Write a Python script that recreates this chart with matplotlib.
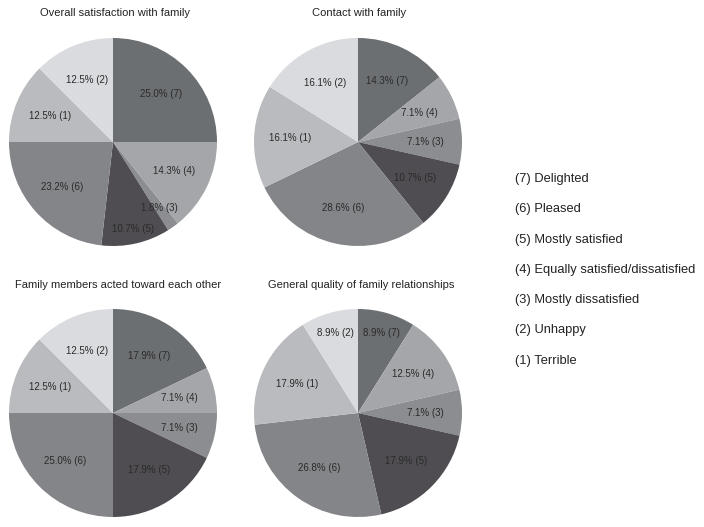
import matplotlib.pyplot as plt

plt.rcParams['font.family'] = ['Liberation Sans', 'DejaVu Sans']

# response codes, in the order the slices run clockwise from 12 o'clock
codes = [7, 4, 3, 5, 6, 1, 2]
colors = ['#6c6f72', '#a4a6a9', '#8b8d90', '#4f4d52', '#838588', '#b9bbbe', '#d9dbde']

titles = ['Overall satisfaction with family',
          'Contact with family',
          'Family members acted toward each other',
          'General quality of family relationships']

overall = [25.0, 14.3, 1.8, 10.7, 23.2, 12.5, 12.5]
contact = [14.3, 7.1, 7.1, 10.7, 28.6, 16.1, 16.1]
acted = [17.9, 7.1, 7.1, 17.9, 25.0, 12.5, 12.5]
quality = [8.9, 12.5, 7.1, 17.9, 26.8, 17.9, 8.9]

legend_labels = ['(7) Delighted', '(6) Pleased', '(5) Mostly satisfied',
                 '(4) Equally satisfied/dissatisfied', '(3) Mostly dissatisfied',
                 '(2) Unhappy', '(1) Terrible']

W, H = 704, 527
fig = plt.figure(figsize=(W / 100, H / 100), dpi=100)

# pie centres in pixels (x, y from top), radius in pixels
centres = [(113, 142), (358, 142), (113, 413), (358, 413)]
title_pos = [(115, 13), (359, 13), (118, 285), (361, 285)]
R = 104
# label distance tweaks for the thin slices
label_r = [{2: 0.78, 3: 0.86}, {}, {}, {0: 0.8, 6: 0.8}]

for i, vals in enumerate([overall, contact, acted, quality]):
    cx, cy = centres[i]
    ax = fig.add_axes([(cx - R) / W, (H - cy - R) / H, 2 * R / W, 2 * R / H])
    labels = [f'{v:.1f}% ({c})' for v, c in zip(vals, codes)]
    wedges, texts = ax.pie(vals, colors=colors, startangle=90, counterclock=False,
                           labels=labels, labeldistance=0.65,
                           wedgeprops=dict(linewidth=0),
                           textprops=dict(fontsize=7, color='#2a2a2a',
                                          ha='center', va='center'))
    for j, t in enumerate(texts):
        t.set_horizontalalignment('center')
        if j in label_r[i]:
            x, y = t.get_position()
            k = label_r[i][j] / 0.65
            t.set_position((x * k, y * k))
    ax.set_xlim(-1, 1)
    ax.set_ylim(-1, 1)
    tx, ty = title_pos[i]
    fig.text(tx / W, 1 - ty / H, titles[i], fontsize=8, color='#222222',
             ha='center', va='center')

for k, lab in enumerate(legend_labels):
    fig.text(515 / W, 1 - (179 + k * 30.3) / H, lab, fontsize=9.3,
             color='#222222', ha='left', va='center')

fig.savefig('out.png', dpi=100, facecolor='white')
